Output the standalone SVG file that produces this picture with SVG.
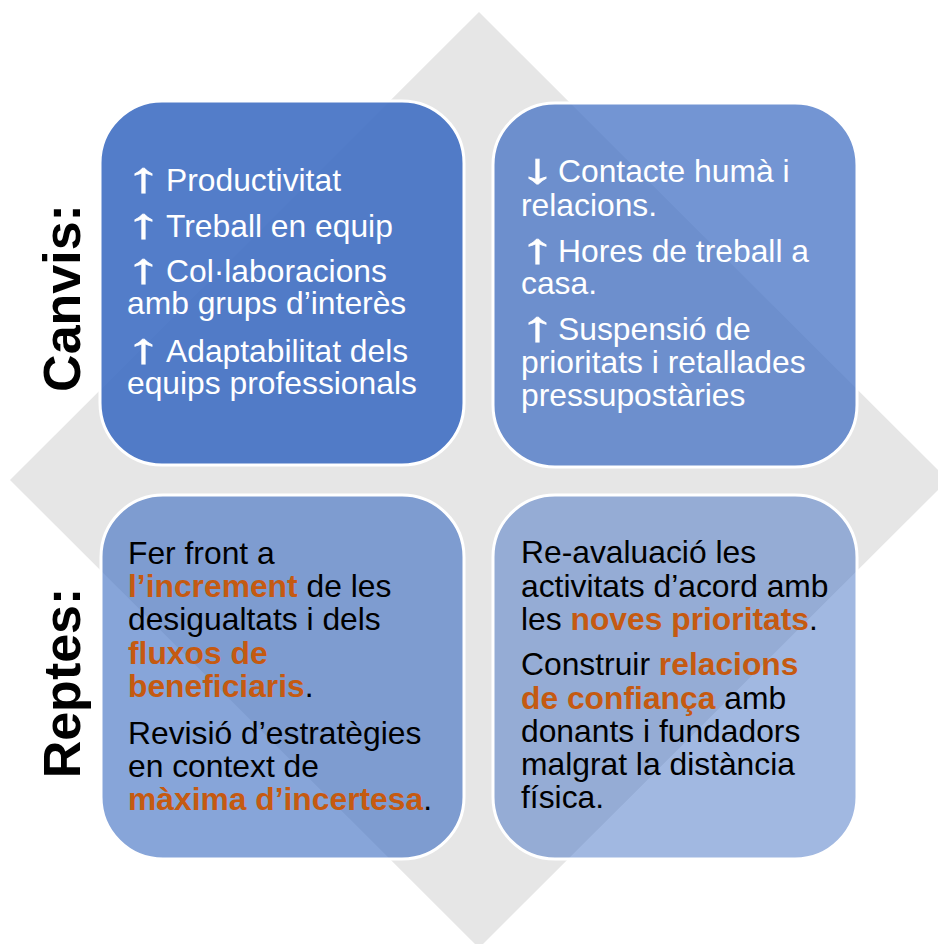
<svg xmlns="http://www.w3.org/2000/svg" width="938" height="944" viewBox="0 0 938 944">
<style>
.box{fill:#4472C4;stroke:#FFFFFF;stroke-width:3}
.t{font-family:"Liberation Sans",Arial,sans-serif;font-size:31.8px}
.ar{font-family:"Liberation Sans",Arial,sans-serif;font-size:42px;fill:#FFFFFF;stroke:#FFFFFF;stroke-width:0.7}
.w{fill:#FFFFFF}
.k{fill:#000000}
.o{fill:#C55A11;font-weight:bold}
.lbl{font-family:"Liberation Sans",Arial,sans-serif;font-size:52px;font-weight:bold;fill:#000000;text-anchor:middle}
</style>
<rect width="938" height="944" fill="#FFFFFF"/>
<polygon id="diamond" points="479,12 948,480 479,948 10,480" fill="#E6E6E6"/>
<g id="connectors"></g>
<g id="label-canvis"><text class="lbl" transform="translate(80,298) rotate(-90)">Canvis:</text></g>
<g id="label-reptes"><text class="lbl" transform="translate(80,683) rotate(-90)">Reptes:</text></g>
<g id="box-tl">
<rect class="box" x="100" y="101" width="364" height="364" rx="62" fill-opacity="0.92"/>
<text class="ar" transform="translate(126,192) scale(1.7,1)">↑</text>
<text class="ar" transform="translate(126,238) scale(1.7,1)">↑</text>
<text class="ar" transform="translate(126,283) scale(1.7,1)">↑</text>
<text class="ar" transform="translate(126,363) scale(1.7,1)">↑</text>
<text class="t w" x="166" y="191">Productivitat</text>
<text class="t w" x="166" y="237">Treball en equip</text>
<text class="t w"><tspan x="166" y="282">Col·laboracions</tspan><tspan x="127" y="314">amb grups d’interès</tspan></text>
<text class="t w"><tspan x="166" y="362">Adaptabilitat dels</tspan><tspan x="127" y="394">equips professionals</tspan></text>
</g>
<g id="box-tr">
<rect class="box" x="493" y="103" width="364" height="364" rx="62" fill-opacity="0.75"/>
<text class="ar" transform="translate(520,183) scale(1.7,1)">↓</text>
<text class="ar" transform="translate(520,263) scale(1.7,1)">↑</text>
<text class="ar" transform="translate(520,341) scale(1.7,1)">↑</text>
<text class="t w"><tspan x="558" y="182">Contacte humà i</tspan><tspan x="521" y="216">relacions.</tspan></text>
<text class="t w"><tspan x="558" y="262">Hores de treball a</tspan><tspan x="521" y="294">casa.</tspan></text>
<text class="t w"><tspan x="558" y="340">Suspensió de</tspan><tspan x="521" y="373">prioritats i retallades</tspan><tspan x="521" y="406">pressupostàries</tspan></text>
</g>
<g id="box-bl">
<rect class="box" x="101" y="495" width="363" height="364" rx="62" fill-opacity="0.64"/>
<text class="t k"><tspan x="128" y="564">Fer front a</tspan><tspan x="128" y="597"><tspan class="o">l’increment</tspan> de les</tspan><tspan x="128" y="630">desigualtats i dels</tspan><tspan x="128" y="664" class="o">fluxos de</tspan><tspan x="128" y="697"><tspan class="o">beneficiaris</tspan>.</tspan></text>
<text class="t k"><tspan x="128" y="744">Revisió d’estratègies</tspan><tspan x="128" y="777">en context de</tspan><tspan x="128" y="810"><tspan class="o">màxima d’incertesa</tspan>.</tspan></text>
</g>
<g id="box-br">
<rect class="box" x="493" y="495" width="364" height="364" rx="62" fill-opacity="0.5"/>
<text class="t k"><tspan x="521" y="563">Re-avaluació les</tspan><tspan x="521" y="597">activitats d’acord amb</tspan><tspan x="521" y="630">les <tspan class="o">noves prioritats</tspan>.</tspan></text>
<text class="t k"><tspan x="521" y="675">Construir <tspan class="o">relacions</tspan></tspan><tspan x="521" y="709"><tspan class="o">de confiança</tspan> amb</tspan><tspan x="521" y="742">donants i fundadors</tspan><tspan x="521" y="775">malgrat la distància</tspan><tspan x="521" y="808">física.</tspan></text>
</g>
</svg>
